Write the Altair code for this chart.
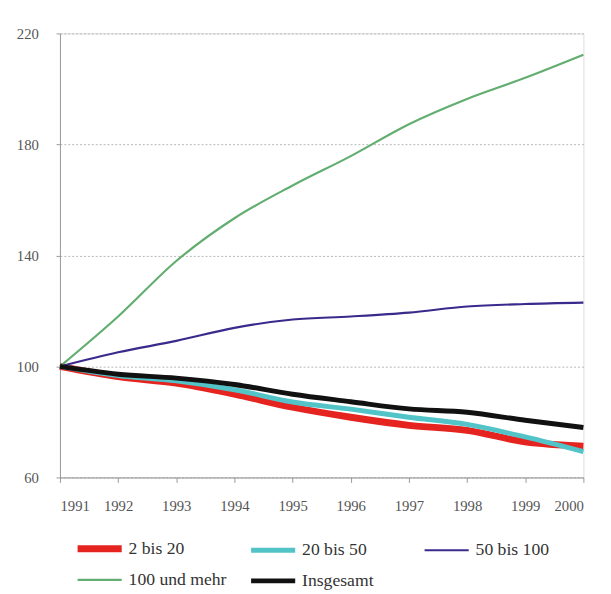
import altair as alt
import pandas as pd

years = [1991, 1992, 1993, 1994, 1995, 1996, 1997, 1998, 1999, 2000]
series_names = ["2 bis 20", "20 bis 50", "50 bis 100", "100 und mehr", "Insgesamt"]
v_2_20 = [100, 96.3, 94.0, 90.0, 85.3, 81.7, 78.8, 77.0, 72.8, 71.3]
v_20_50 = [100, 96.7, 94.8, 91.6, 87.2, 84.6, 81.7, 79.1, 74.6, 69.3]
v_50_100 = [100, 105.1, 109.2, 113.9, 116.9, 118.0, 119.4, 121.6, 122.5, 123.0]
v_100_plus = [100, 118.0, 138.0, 153.4, 165.2, 175.8, 187.3, 196.4, 204.0, 212.3]
v_total = [100, 97.2, 95.8, 93.5, 90.0, 87.3, 84.7, 83.5, 80.6, 78.0]

colors = ["#e52420", "#52c4c8", "#3a2a8c", "#62ad70", "#111111"]
widths = [7, 5, 2.2, 2.2, 5]

rows = []
for name, vals in zip(series_names, [v_2_20, v_20_50, v_50_100, v_100_plus, v_total]):
    for y, v in zip(years, vals):
        rows.append({"Jahr": y, "Wert": v, "Reihe": name})
df = pd.DataFrame(rows)

font = "Liberation Serif"

legend = alt.Legend(
    title=None, orient="none", legendX=27, legendY=512, columns=3,
    direction="horizontal",
    gridAlign="all", columnPadding=15, rowPadding=6, padding=0,
    symbolType="M-2.25,0H2.25", symbolSize=400, labelOffset=16,
    labelFont=font, labelFontSize=18, labelColor="#333333", labelLimit=300,
)

chart = alt.Chart(df).mark_line(interpolate="monotone").encode(
    x=alt.X("Jahr:Q", scale=alt.Scale(domain=[1991, 2000], nice=False, zero=False),
            axis=alt.Axis(title=None, values=years, format="d", grid=False,
                          tickSize=5, labelPadding=17,
                          labelFont=font, labelFontSize=15, labelColor="#555555",
                          domainColor="#999999", tickColor="#999999")),
    y=alt.Y("Wert:Q", scale=alt.Scale(domain=[60, 220], nice=False, zero=False),
            axis=alt.Axis(title=None, values=[60, 100, 140, 180, 220], grid=True,
                          gridDash=[2, 2], gridColor="#b5b5b5",
                          tickSize=4, labelPadding=18,
                          labelFont=font, labelFontSize=15, labelColor="#555555",
                          domainColor="#999999", tickColor="#999999")),
    color=alt.Color("Reihe:N", scale=alt.Scale(domain=series_names, range=colors),
                    sort=series_names, legend=legend),
    strokeWidth=alt.StrokeWidth("Reihe:N",
                                scale=alt.Scale(type="ordinal", domain=series_names, range=widths),
                                sort=series_names, legend=None),
    order=alt.Order("Jahr:Q"),
).properties(
    width=534, height=453,
    autosize=alt.AutoSizeParams(type="none"),
    padding={"left": 53, "top": 20, "right": 20, "bottom": 115},
).configure_view(
    stroke="#999999", strokeWidth=1
).configure_legend(
    labelFont=font, labelFontSize=18
).configure(background="white", font=font, style={"guide-label": {"font": font}})

chart.save("out.html", embed_options={"renderer": "svg", "actions": False})
